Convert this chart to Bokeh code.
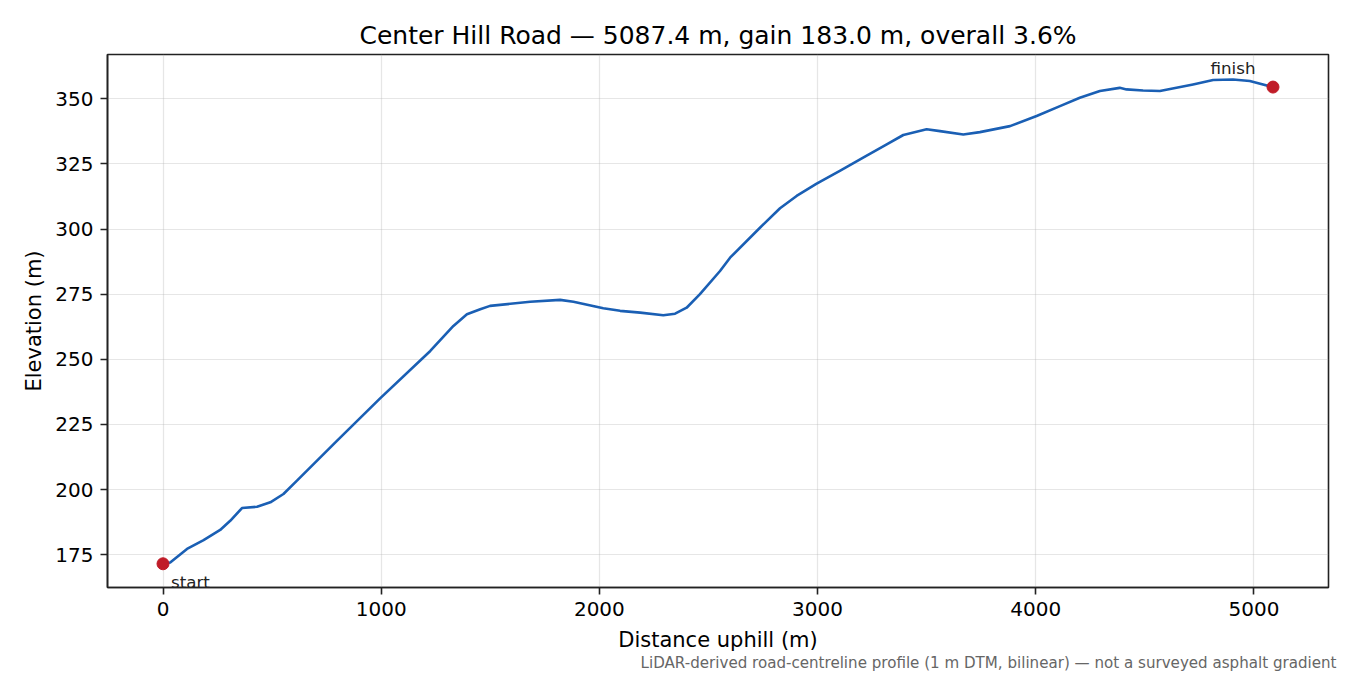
from bokeh.plotting import figure
from bokeh.models import Range1d, Label, FixedTicker, Title
from bokeh.embed import file_html
from bokeh.resources import INLINE

# profile (distance uphill m, elevation m)
dist = [0, 33, 110, 186, 262, 308, 362, 431, 492, 552, 614, 797, 995, 1225, 1331,
        1393, 1454, 1499, 1683, 1820, 1881, 2018, 2095, 2187, 2293, 2347, 2400, 2461,
        2553, 2599, 2736, 2828, 2904, 2996, 3102, 3209, 3317, 3393, 3500, 3561, 3668,
        3744, 3882, 4004, 4111, 4202, 4294, 4385, 4416, 4492, 4569, 4645, 4721, 4813,
        4904, 4981, 5087.4]
elev = [171.5, 172.0, 177.2, 180.6, 184.5, 188.0, 192.9, 193.4, 195.1, 198.3, 203.4,
        218.7, 235.0, 253.2, 262.8, 267.3, 269.2, 270.5, 272.1, 272.8, 272.1, 269.6,
        268.6, 267.9, 266.9, 267.5, 269.8, 275.0, 283.9, 289.0, 300.5, 308.0, 312.7,
        317.4, 322.3, 327.4, 332.5, 336.1, 338.3, 337.6, 336.3, 337.2, 339.5, 343.4,
        347.2, 350.4, 353.0, 354.2, 353.6, 353.2, 353.0, 354.2, 355.5, 357.2, 357.4,
        356.8, 354.5]

x_ticks = [0, 1000, 2000, 3000, 4000, 5000]
y_ticks = [175, 200, 225, 250, 275, 300, 325, 350]

title = "Center Hill Road \u2014 5087.4 m, gain 183.0 m, overall 3.6%"
note = "LiDAR-derived road-centreline profile (1 m DTM, bilinear) \u2014 not a surveyed asphalt gradient"
FONT = "DejaVu Sans"

p = figure(width=1350, height=675, output_backend="svg", toolbar_location=None,
           x_range=Range1d(-254.4, 5341.8), y_range=Range1d(162.4, 367.0),
           x_axis_label="Distance uphill (m)", y_axis_label="Elevation (m)",
           min_border_left=107, min_border_right=22,
           min_border_top=54, min_border_bottom=88)

p.title.text = title
p.title.align = "center"
p.title.text_font = FONT
p.title.text_font_size = "25px"
p.title.text_font_style = "normal"
p.title.text_color = "black"
p.title.standoff = 10

# small grey footnote under the x axis label, right aligned
p.add_layout(Title(text=note, align="right", offset=-8, text_font=FONT,
                   text_font_size="15.1px", text_font_style="normal",
                   text_color="#666666", standoff=-6), "below")

p.outline_line_color = "#222222"
p.outline_line_width = 1.6
p.outline_line_alpha = 1.0

for ax in (p.xaxis, p.yaxis):
    ax.axis_line_color = "#222222"
    ax.axis_line_width = 1.6
    ax.major_tick_line_color = "#222222"
    ax.major_tick_line_width = 1.6
    ax.major_tick_out = 7
    ax.major_tick_in = 0
    ax.minor_tick_line_color = None
    ax.major_label_text_font = FONT
    ax.major_label_text_font_size = "20px"
    ax.major_label_text_color = "black"
    ax.major_label_standoff = 7
    ax.axis_label_text_font = FONT
    ax.axis_label_text_font_size = "21px"
    ax.axis_label_text_font_style = "normal"
    ax.axis_label_text_color = "black"

p.xaxis.axis_label_standoff = 9
p.yaxis.axis_label_standoff = 6

p.xaxis.ticker = FixedTicker(ticks=x_ticks)
p.yaxis.ticker = FixedTicker(ticks=y_ticks)

p.grid.grid_line_color = "#b0b0b0"
p.grid.grid_line_alpha = 0.32
p.grid.grid_line_width = 1.2

p.line(dist, elev, line_color="#1a5fb4", line_width=2.6, line_join="round")
p.scatter([dist[0], dist[-1]], [elev[0], elev[-1]], size=12,
          fill_color="#c01c28", line_color="#c01c28")

p.add_layout(Label(x=dist[0], y=elev[0], text="start", x_offset=8, y_offset=-18,
                   text_font=FONT, text_font_size="16.7px", text_color="#222222",
                   text_align="left", text_baseline="alphabetic"))
p.add_layout(Label(x=dist[-1], y=elev[-1], text="finish", x_offset=-40, y_offset=19,
                   text_font=FONT, text_font_size="16.7px", text_color="#222222",
                   text_align="center", text_baseline="alphabetic"))

open("out.html", "w").write(file_html(p, INLINE))
